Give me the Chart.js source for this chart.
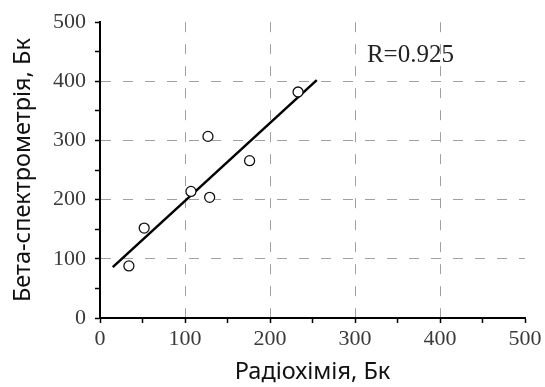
<!DOCTYPE html>
<html>
<head>
<meta charset="utf-8">
<script src="https://cdn.jsdelivr.net/npm/chart.js@4.4.0/dist/chart.umd.min.js"></script>
<style>
  html, body { margin: 0; padding: 0; background: #fff; }
  #wrap { width: 545px; height: 387px; }
</style>
</head>
<body>
<div id="wrap"><canvas id="scatterChart" width="545" height="387"></canvas></div>
<script>
const radiochemistry = [34, 52, 107, 127, 129, 176, 233];
const betaSpectrometry = [88, 152, 214, 307, 204, 266, 382];

// regression line end points
const fitX = [15, 255];
const fitY = [86, 402];

const axisMin = 0;
const axisMax = 500;
const correlationLabel = 'R=0.925';
const labelPos = { x: 314, y: 443 };

const tickFont = { family: '"Liberation Serif", "Times New Roman", serif', size: 22 };
const titleFont = { family: '"Noto Sans", "Open Sans", sans-serif', size: 23.5 };

function gridColor(ctx) {
    const v = ctx.tick.value;
    return (v % 100 === 0 && v > axisMin && v < axisMax) ? '#a0a0a0' : 'rgba(0,0,0,0)';
}

function tickLabel(value) {
    return value % 100 === 0 ? value : '';
}

// draws the R value as a text note inside the plot
const rLabel = {
    id: 'rLabel',
    afterDatasetsDraw(chart) {
        const { ctx, scales } = chart;
        ctx.save();
        ctx.font = '25px "Liberation Serif", "Times New Roman", serif';
        ctx.fillStyle = '#222';
        ctx.textAlign = 'left';
        ctx.textBaseline = 'middle';
        ctx.fillText(correlationLabel, scales.x.getPixelForValue(labelPos.x), scales.y.getPixelForValue(labelPos.y));
        ctx.restore();
    }
};

document.addEventListener('DOMContentLoaded', function() {
    const canvas = document.getElementById('scatterChart');

    const points = radiochemistry.map((x, i) => ({ x: x, y: betaSpectrometry[i] }));
    const fitLine = fitX.map((x, i) => ({ x: x, y: fitY[i] }));

    new Chart(canvas, {
        type: 'scatter',
        data: {
            datasets: [{
                label: 'samples',
                data: points,
                order: 0,
                pointRadius: 5,
                pointHoverRadius: 5,
                pointBorderWidth: 1.3,
                pointBorderColor: '#111',
                pointBackgroundColor: '#fff'
            }, {
                label: 'fit',
                data: fitLine,
                order: 1,
                showLine: true,
                borderColor: '#000',
                borderWidth: 2.5,
                pointRadius: 0,
                pointHoverRadius: 0
            }]
        },
        options: {
            responsive: false,
            animation: false,
            layout: {
                padding: { top: 19, right: 20, bottom: 0, left: 0 }
            },
            plugins: {
                legend: { display: false },
                tooltip: { enabled: false }
            },
            scales: {
                x: {
                    type: 'linear',
                    min: axisMin,
                    max: axisMax,
                    afterFit: function(scale) { scale.height = 69; },
                    grid: {
                        color: gridColor,
                        lineWidth: 1,
                        tickColor: '#000',
                        tickLength: 5,
                        tickWidth: 1.5
                    },
                    border: {
                        display: true,
                        color: '#000',
                        width: 2,
                        dash: [10, 12]
                    },
                    ticks: {
                        stepSize: 50,
                        autoSkip: false,
                        maxRotation: 0,
                        padding: 3,
                        color: '#3a3a3a',
                        font: tickFont,
                        callback: tickLabel
                    },
                    title: {
                        display: true,
                        text: 'Радіохімія, Бк',
                        color: '#111',
                        font: titleFont,
                        padding: { top: 0, bottom: 1 }
                    }
                },
                y: {
                    type: 'linear',
                    min: axisMin,
                    max: axisMax,
                    afterFit: function(scale) { scale.width = 100; },
                    grid: {
                        color: gridColor,
                        lineWidth: 1,
                        tickColor: '#000',
                        tickLength: 5,
                        tickWidth: 1.5
                    },
                    border: {
                        display: true,
                        color: '#000',
                        width: 2,
                        dash: [10, 12]
                    },
                    ticks: {
                        stepSize: 50,
                        autoSkip: false,
                        padding: 9,
                        color: '#3a3a3a',
                        font: tickFont,
                        callback: tickLabel
                    },
                    title: {
                        display: true,
                        text: 'Бета-спектрометрія, Бк',
                        color: '#111',
                        font: titleFont,
                        padding: { top: 9, bottom: 0 }
                    }
                }
            }
        },
        plugins: [rLabel]
    });
});
</script>
</body>
</html>
